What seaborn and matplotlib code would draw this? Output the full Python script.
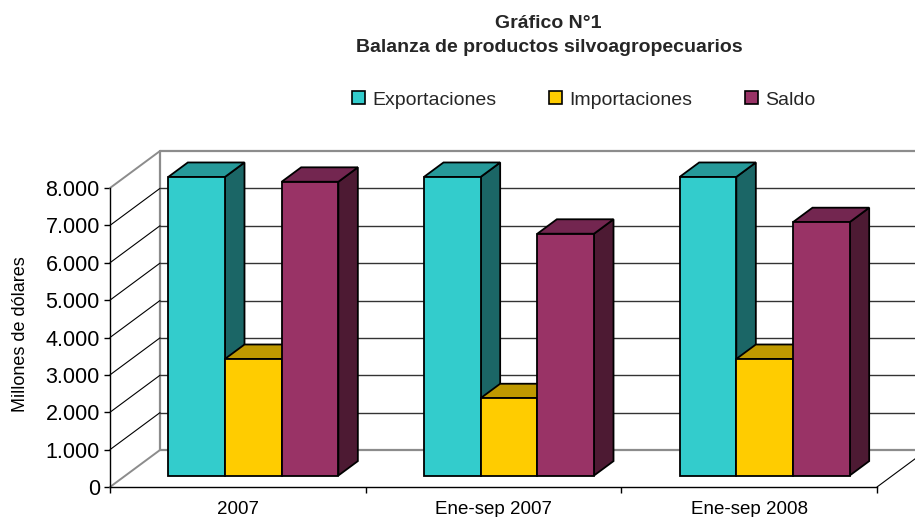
import pandas as pd
import matplotlib
matplotlib.use("Agg")
import matplotlib.pyplot as plt
from matplotlib.patches import Polygon, Patch
import seaborn as sns

# -------------------------------
# Datos (millones de dólares)
# -------------------------------
categorias = ["2007", "Ene-sep 2007", "Ene-sep 2008"]
series = ["Exportaciones", "Importaciones", "Saldo"]
exportaciones = [7990, 7990, 7990]
importaciones = [3120, 2070, 3120]
saldo = [7860, 6470, 6780]

y_ticks = [0, 1000, 2000, 3000, 4000, 5000, 6000, 7000, 8000]
y_tick_labels = ["0", "1.000", "2.000", "3.000", "4.000", "5.000", "6.000", "7.000", "8.000"]

colores_frente = ["#33CCCC", "#FFCC00", "#993366"]
colores_techo = ["#269999", "#BF9900", "#732650"]
colores_lado = ["#1B6666", "#806600", "#4D1A33"]

df = pd.DataFrame({
    "Periodo": categorias * 3,
    "Serie": [s for s in series for _ in categorias],
    "Valor": exportaciones + importaciones + saldo,
})

# -------------------------------
# Figura
# -------------------------------
sns.set_style("white")
plt.rcParams["font.family"] = ["Liberation Sans", "DejaVu Sans"]

W, H = 915, 517
fig = plt.figure(figsize=(W / 100, H / 100), dpi=100)
ax_left, ax_bottom, ax_w, ax_h = 110, 30, 767, 299
ax = fig.add_axes([ax_left / W, ax_bottom / H, ax_w / W, ax_h / H])

sns.barplot(data=df, x="Periodo", y="Valor", hue="Serie", order=categorias,
            hue_order=series, palette=colores_frente, saturation=1,
            width=0.665, errorbar=None, edgecolor="black", linewidth=1.3,
            legend=False, ax=ax)

ax.set_xlim(-0.5, 2.5)
ax.set_ylim(0, 8000)

# profundidad del efecto 3D (50 px a la derecha, 37 px hacia arriba)
DX = 50 / (ax_w / 3)
DY = 37 / (ax_h / 8000)
fw = 0.31   # posición del frente de las barras
bd = 0.39   # profundidad de las barras

# -------------------------------
# Paredes y piso
# -------------------------------
gris = "#8C8C8C"
x0, x1 = -0.5, 2.5
ax.plot([x0 + DX, x0 + DX], [DY, 8000 + DY], color=gris, lw=1.6, clip_on=False, zorder=1)
ax.plot([x0 + DX, x1 + DX], [8000 + DY, 8000 + DY], color=gris, lw=1.6, clip_on=False, zorder=1)
ax.plot([x0 + DX, x1 + DX], [DY, DY], color=gris, lw=1.6, clip_on=False, zorder=1)
ax.plot([x0, x0 + DX], [0, DY], color=gris, lw=1.4, clip_on=False, zorder=1)
ax.plot([x0, x0 + DX], [8000, 8000 + DY], color=gris, lw=1.4, clip_on=False, zorder=1)
ax.plot([x1, x1 + DX], [0, DY], color="black", lw=0.8, clip_on=False, zorder=1)
for v in y_ticks[1:-1]:
    ax.plot([x0, x0 + DX], [v, v + DY], color="black", lw=0.8, clip_on=False, zorder=1)
    ax.plot([x0 + DX, x1 + DX], [v + DY, v + DY], color="#333333", lw=1.0,
            clip_on=False, zorder=1)

# -------------------------------
# Barras 3D
# -------------------------------
barras = sorted(ax.patches, key=lambda p: p.get_x())
for i, p in enumerate(barras):
    w, h = p.get_width(), p.get_height()
    xc = p.get_x() + w / 2
    k = int(round((xc - round(xc)) / w)) + 1
    bx = p.get_x() + fw * DX
    by = fw * DY
    p.set_x(bx)
    p.set_y(by)
    z = 3 + i * 0.5
    p.set_zorder(z + 0.2)
    p.set_clip_on(False)
    lado = Polygon([(bx + w, by), (bx + w + bd * DX, by + bd * DY),
                    (bx + w + bd * DX, by + h + bd * DY), (bx + w, by + h)],
                   closed=True, fc=colores_lado[k], ec="black", lw=1.3,
                   zorder=z, clip_on=False)
    techo = Polygon([(bx, by + h), (bx + w, by + h),
                     (bx + w + bd * DX, by + h + bd * DY), (bx + bd * DX, by + h + bd * DY)],
                    closed=True, fc=colores_techo[k], ec="black", lw=1.3,
                    zorder=z + 0.1, clip_on=False)
    ax.add_patch(lado)
    ax.add_patch(techo)

# -------------------------------
# Ejes
# -------------------------------
for s in ["top", "right"]:
    ax.spines[s].set_visible(False)
for s in ["left", "bottom"]:
    ax.spines[s].set_color("black")
    ax.spines[s].set_linewidth(1.0)
    ax.spines[s].set_zorder(2)

ax.set_yticks(y_ticks, y_tick_labels)
ax.tick_params(axis="y", which="major", left=True, length=4.3, width=1, color="black",
               labelsize=15.5, pad=3, labelcolor="black")
ax.set_xticks([0, 1, 2], categorias)
ax.set_xticks([-0.5, 0.5, 1.5, 2.5], minor=True)
ax.tick_params(axis="x", which="major", length=0, labelsize=13.5, pad=10, labelcolor="black")
ax.tick_params(axis="x", which="minor", bottom=True, length=4.3, width=1, color="black")
ax.set_xlabel("")
ax.set_ylabel("Millones de dólares", fontsize=13, color="black")
ax.yaxis.set_label_coords((29 - ax_left) / ax_w, (487 - 334) / ax_h)

# -------------------------------
# Título y leyenda
# -------------------------------
fig.text(548 / W, 1 - 23 / H, "Gráfico N°1", ha="center", va="center",
         fontsize=14, fontweight="bold")
fig.text(549 / W, 1 - 47 / H, "Balanza de productos silvoagropecuarios",
         ha="center", va="center", fontsize=14, fontweight="bold")

handles = [Patch(facecolor=c, edgecolor="black", linewidth=1.2) for c in colores_frente]
fig.legend(handles, series, loc="center", bbox_to_anchor=(584 / W, 1 - 100 / H),
           ncol=3, frameon=False, fontsize=14, handlelength=0.65, handleheight=0.65,
           handletextpad=0.4, columnspacing=2.7)

fig.savefig("out.png", dpi=100)
